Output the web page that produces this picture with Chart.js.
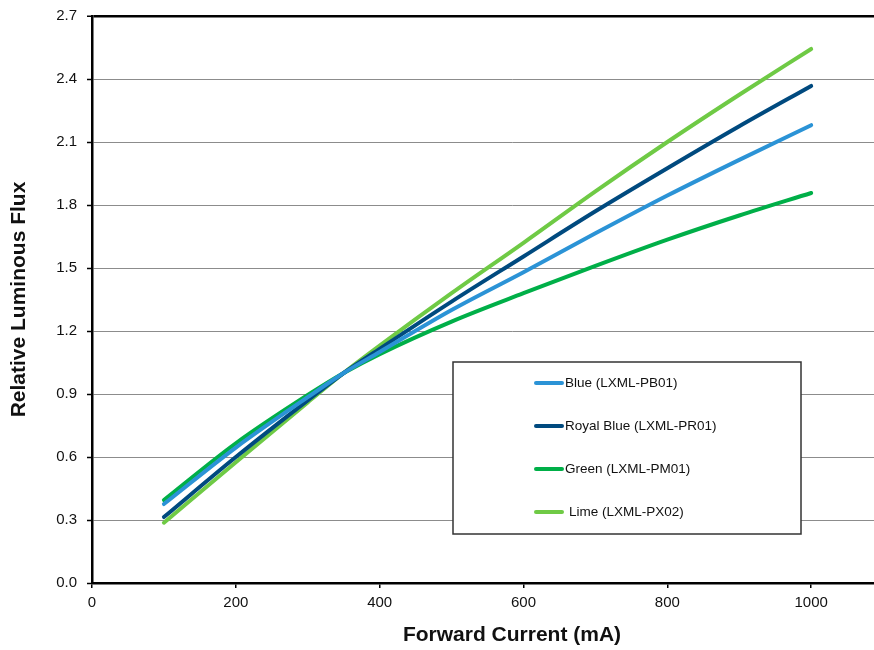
<!DOCTYPE html>
<html>
<head>
<meta charset="utf-8">
<script src="https://cdn.jsdelivr.net/npm/chart.js@4"></script>
<style>
    html, body { margin: 0; padding: 0; background: #fff; overflow: hidden; }
    #wrap { width: 932px; height: 650px; }
</style>
</head>
<body>
<div id="wrap"><canvas id="fluxChart" width="932" height="650"></canvas></div>
<script>
// Forward current (mA)
const currents = [100, 200, 300, 350, 400, 500, 600, 700, 800, 900, 1000];

// Relative luminous flux per LED colour
const blueFlux  = [0.376, 0.645, 0.885, 1.0, 1.10, 1.30, 1.48, 1.665, 1.845, 2.015, 2.18];
const royalFlux = [0.314, 0.600, 0.870, 1.0, 1.115, 1.34, 1.555, 1.77, 1.975, 2.175, 2.367];
const greenFlux = [0.395, 0.665, 0.895, 1.0, 1.09, 1.245, 1.38, 1.51, 1.635, 1.75, 1.857];
const limeFlux  = [0.287, 0.575, 0.860, 1.0, 1.13, 1.38, 1.62, 1.865, 2.10, 2.325, 2.543];

const seriesLabels = ['Blue (LXML-PB01)', 'Royal Blue (LXML-PR01)', 'Green (LXML-PM01)', 'Lime (LXML-PX02)'];
const seriesColors = ['#2b93d6', '#004a7f', '#00af48', '#6fca45'];
const seriesValues = [blueFlux, royalFlux, greenFlux, limeFlux];

const yTicks = [0, 0.3, 0.6, 0.9, 1.2, 1.5, 1.8, 2.1, 2.4, 2.7];
const xTicks = [0, 200, 400, 600, 800, 1000];

const datasets = seriesValues.map((vals, i) => ({
    label: seriesLabels[i],
    data: currents.map((c, j) => ({ x: c, y: vals[j] })),
    borderColor: seriesColors[i],
    backgroundColor: seriesColors[i],
    borderWidth: 4,
    pointRadius: 0,
    cubicInterpolationMode: 'monotone',
    borderCapStyle: 'round',
    fill: false
}));

// Legend box drawn inside the plot
const boxLegend = {
    id: 'boxLegend',
    afterDraw(chart) {
        const ctx = chart.ctx;
        ctx.save();
        ctx.fillStyle = '#fff';
        ctx.fillRect(453, 362, 348, 172);
        ctx.strokeStyle = '#333';
        ctx.lineWidth = 1.5;
        ctx.strokeRect(453, 362, 348, 172);
        ctx.font = '13.5px "Liberation Sans", Arial, sans-serif';
        ctx.textBaseline = 'middle';
        chart.data.datasets.forEach((ds, i) => {
            const y = 383 + i * 43;
            ctx.strokeStyle = ds.borderColor;
            ctx.lineWidth = 4;
            ctx.lineCap = 'round';
            ctx.beginPath();
            ctx.moveTo(536, y);
            ctx.lineTo(562, y);
            ctx.stroke();
            ctx.fillStyle = '#111';
            ctx.fillText(ds.label, i === 3 ? 569 : 565, y);
        });
        ctx.restore();
    }
};

const ctx = document.getElementById('fluxChart').getContext('2d');
new Chart(ctx, {
    type: 'line',
    data: { datasets: datasets },
    options: {
        responsive: false,
        animation: false,
        layout: { padding: { top: 16, right: 0, bottom: 0, left: 0 } },
        plugins: {
            legend: { display: false },
            tooltip: { enabled: false }
        },
        scales: {
            x: {
                type: 'linear',
                min: 0,
                max: 1168,
                afterBuildTicks: (scale) => { scale.ticks = xTicks.map(v => ({ value: v })); },
                afterFit: (scale) => { scale.height = 67; },
                ticks: {
                    color: '#111',
                    font: { family: '"Liberation Sans", Arial', size: 15 },
                    padding: 6,
                    maxRotation: 0,
                    callback: (v) => String(v)
                },
                grid: {
                    drawOnChartArea: false,
                    drawTicks: true,
                    tickLength: 5,
                    color: '#000',
                    lineWidth: 1.5
                },
                border: { color: '#000', width: 2.5 },
                title: {
                    display: true,
                    text: 'Forward Current (mA)',
                    color: '#111',
                    font: { family: '"Liberation Sans", Arial', size: 21, weight: 'bold' },
                    padding: { top: 2.5, bottom: 2.5 }
                }
            },
            y: {
                min: 0,
                max: 2.7,
                afterBuildTicks: (scale) => { scale.ticks = yTicks.map(v => ({ value: v })); },
                afterFit: (scale) => {
                    scale.width = 92;
                    scale.paddingTop = 0;
                    scale.paddingBottom = 0;
                },
                ticks: {
                    color: '#111',
                    font: { family: '"Liberation Sans", Arial', size: 15 },
                    padding: 10,
                    callback: (v) => v.toFixed(1)
                },
                grid: {
                    color: (c) => c.tick && c.tick.value === 2.7 ? '#000' : '#8c8c8c',
                    lineWidth: (c) => c.tick && c.tick.value === 2.7 ? 2.5 : 1,
                    tickColor: '#000',
                    tickLength: 5,
                    tickWidth: 1.5
                },
                border: { color: '#000', width: 2.5 },
                title: {
                    display: true,
                    text: 'Relative Luminous Flux',
                    color: '#111',
                    font: { family: '"Liberation Sans", Arial', size: 21, weight: 'bold' },
                    padding: { top: 7, bottom: 7 }
                }
            }
        }
    },
    plugins: [boxLegend]
});
</script>
</body>
</html>
